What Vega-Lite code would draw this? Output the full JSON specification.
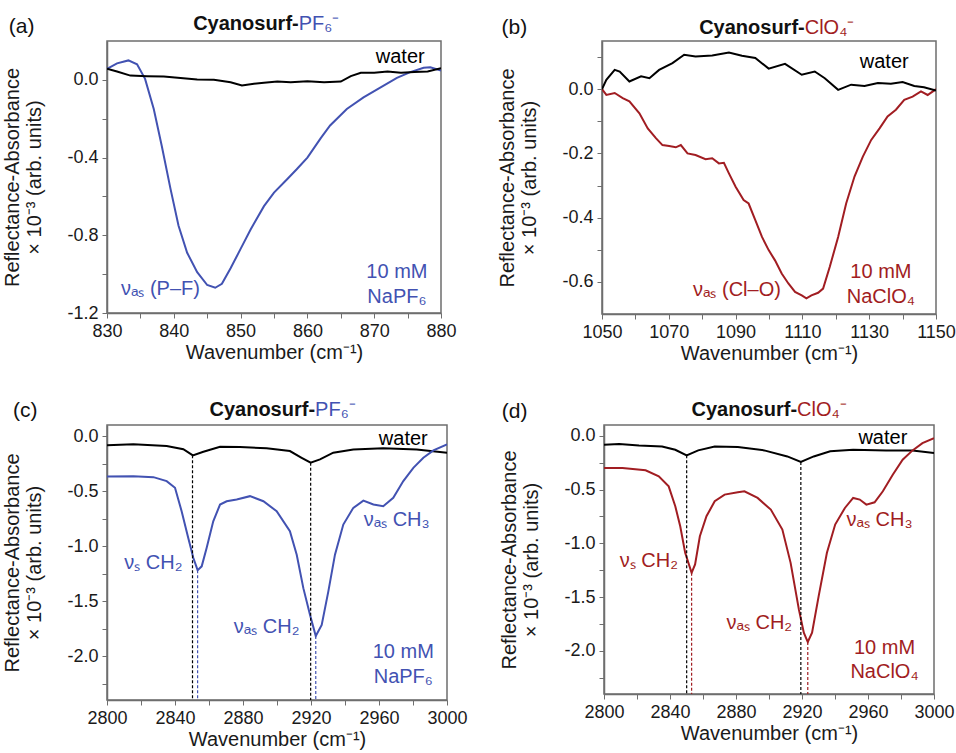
{
  "$schema": "https://vega.github.io/schema/vega-lite/v6.json",
  "padding": {"left": 2, "top": 12, "right": 0, "bottom": 5},
  "background": "white",
  "config": {
    "font": "Liberation Sans",
    "view": {"stroke": "#6e6e6e", "strokeWidth": 1.5},
    "axis": {"labelFont": "Liberation Sans", "labelFontSize": 18, "labelColor": "#1a1a1a", "titleFont": "Liberation Sans", "titleFontSize": 20, "titleFontWeight": "normal", "titleColor": "#1a1a1a", "tickColor": "#6e6e6e", "domainColor": "#6e6e6e", "domainWidth": 1.5, "tickSize": 5, "grid": false, "labelPadding": 4, "labelFlush": false, "labelOverlap": false},
    "axisY": {"titleLineHeight": 22, "titlePadding": 22},
    "axisX": {"titlePadding": 2},
    "text": {"font": "Liberation Sans"}
  },
  "datasets": {
    "a": [
      {"x": 830, "y": 0.057, "s": "blue"}, {"x": 831.5, "y": 0.085, "s": "blue"}, {"x": 833.2, "y": 0.1, "s": "blue"}, {"x": 834.5, "y": 0.08, "s": "blue"}, {"x": 835.7, "y": 0.005, "s": "blue"}, {"x": 837, "y": -0.15, "s": "blue"}, {"x": 838.2, "y": -0.34, "s": "blue"}, {"x": 839.5, "y": -0.56, "s": "blue"}, {"x": 840.7, "y": -0.75, "s": "blue"}, {"x": 842, "y": -0.89, "s": "blue"}, {"x": 843.5, "y": -0.99, "s": "blue"}, {"x": 845, "y": -1.056, "s": "blue"}, {"x": 846.2, "y": -1.07, "s": "blue"}, {"x": 847.2, "y": -1.05, "s": "blue"}, {"x": 848.5, "y": -0.97, "s": "blue"}, {"x": 850, "y": -0.87, "s": "blue"}, {"x": 851.5, "y": -0.77, "s": "blue"}, {"x": 853.5, "y": -0.65, "s": "blue"}, {"x": 855, "y": -0.58, "s": "blue"}, {"x": 857, "y": -0.51, "s": "blue"}, {"x": 858.4, "y": -0.46, "s": "blue"}, {"x": 860, "y": -0.4, "s": "blue"}, {"x": 862, "y": -0.3, "s": "blue"}, {"x": 863.4, "y": -0.235, "s": "blue"}, {"x": 865.9, "y": -0.15, "s": "blue"}, {"x": 868.4, "y": -0.09, "s": "blue"}, {"x": 870.9, "y": -0.04, "s": "blue"}, {"x": 873.4, "y": 0.01, "s": "blue"}, {"x": 875.4, "y": 0.04, "s": "blue"}, {"x": 877.4, "y": 0.062, "s": "blue"}, {"x": 878.4, "y": 0.065, "s": "blue"}, {"x": 880, "y": 0.048, "s": "blue"},
      {"x": 830, "y": 0.057, "s": "water"}, {"x": 831.5, "y": 0.043, "s": "water"}, {"x": 833.5, "y": 0.022, "s": "water"}, {"x": 836, "y": 0.019, "s": "water"}, {"x": 838.5, "y": 0.017, "s": "water"}, {"x": 841, "y": 0.009, "s": "water"}, {"x": 843.5, "y": 0.002, "s": "water"}, {"x": 846, "y": 0.0, "s": "water"}, {"x": 848.5, "y": -0.012, "s": "water"}, {"x": 850.2, "y": -0.029, "s": "water"}, {"x": 852, "y": -0.02, "s": "water"}, {"x": 853.5, "y": -0.015, "s": "water"}, {"x": 855.5, "y": -0.009, "s": "water"}, {"x": 857.5, "y": -0.012, "s": "water"}, {"x": 860, "y": -0.007, "s": "water"}, {"x": 862.5, "y": -0.012, "s": "water"}, {"x": 865, "y": -0.009, "s": "water"}, {"x": 866.5, "y": 0.019, "s": "water"}, {"x": 868, "y": 0.036, "s": "water"}, {"x": 870, "y": 0.036, "s": "water"}, {"x": 872, "y": 0.043, "s": "water"}, {"x": 874, "y": 0.036, "s": "water"}, {"x": 876, "y": 0.04, "s": "water"}, {"x": 878, "y": 0.043, "s": "water"}, {"x": 880, "y": 0.06, "s": "water"}
    ],
    "aText": [
      {"x": 873.9, "y": 0.117, "label": "water", "s": "water"},
      {"x": 838, "y": -1.076, "label": "νₐₛ (P–F)", "s": "blue"},
      {"x": 873.4, "y": -0.99, "label": "10 mM", "s": "blue"},
      {"x": 873.4, "y": -1.12, "label": "NaPF₆", "s": "blue"}
    ],
    "aTitle": [{"x": 858.7, "y": 0.29, "head": "Cyanosurf-", "ion": "PF₆⁻", "s": "blue", "letter": "(a)", "lx": 815.3, "ly": 0.271}],
    "b": [
      {"x": 1050, "y": 0, "s": "red"}, {"x": 1051.3, "y": -0.018, "s": "red"}, {"x": 1053.8, "y": -0.012, "s": "red"}, {"x": 1056.2, "y": -0.028, "s": "red"}, {"x": 1058.2, "y": -0.038, "s": "red"}, {"x": 1061.2, "y": -0.075, "s": "red"}, {"x": 1063.7, "y": -0.122, "s": "red"}, {"x": 1066.2, "y": -0.153, "s": "red"}, {"x": 1068.1, "y": -0.174, "s": "red"}, {"x": 1070.1, "y": -0.177, "s": "red"}, {"x": 1072.1, "y": -0.181, "s": "red"}, {"x": 1073.6, "y": -0.174, "s": "red"}, {"x": 1075.6, "y": -0.2, "s": "red"}, {"x": 1078, "y": -0.205, "s": "red"}, {"x": 1081, "y": -0.218, "s": "red"}, {"x": 1083, "y": -0.215, "s": "red"}, {"x": 1085, "y": -0.231, "s": "red"}, {"x": 1086.5, "y": -0.229, "s": "red"}, {"x": 1088, "y": -0.262, "s": "red"}, {"x": 1090, "y": -0.304, "s": "red"}, {"x": 1092.4, "y": -0.345, "s": "red"}, {"x": 1093.9, "y": -0.356, "s": "red"}, {"x": 1095.9, "y": -0.408, "s": "red"}, {"x": 1097.9, "y": -0.46, "s": "red"}, {"x": 1099.9, "y": -0.501, "s": "red"}, {"x": 1101.8, "y": -0.533, "s": "red"}, {"x": 1103.8, "y": -0.574, "s": "red"}, {"x": 1105.8, "y": -0.605, "s": "red"}, {"x": 1107.8, "y": -0.631, "s": "red"}, {"x": 1109.8, "y": -0.642, "s": "red"}, {"x": 1111.2, "y": -0.651, "s": "red"}, {"x": 1112.7, "y": -0.642, "s": "red"}, {"x": 1114.7, "y": -0.634, "s": "red"}, {"x": 1116.2, "y": -0.621, "s": "red"}, {"x": 1118.2, "y": -0.553, "s": "red"}, {"x": 1120.7, "y": -0.46, "s": "red"}, {"x": 1123.1, "y": -0.356, "s": "red"}, {"x": 1125.6, "y": -0.272, "s": "red"}, {"x": 1128.1, "y": -0.21, "s": "red"}, {"x": 1130.6, "y": -0.158, "s": "red"}, {"x": 1133.1, "y": -0.122, "s": "red"}, {"x": 1135.5, "y": -0.085, "s": "red"}, {"x": 1138, "y": -0.064, "s": "red"}, {"x": 1140.5, "y": -0.033, "s": "red"}, {"x": 1143, "y": -0.023, "s": "red"}, {"x": 1145.5, "y": -0.007, "s": "red"}, {"x": 1147.5, "y": -0.018, "s": "red"}, {"x": 1150, "y": 0, "s": "red"},
      {"x": 1050, "y": 0, "s": "water"}, {"x": 1051.3, "y": 0.029, "s": "water"}, {"x": 1053.8, "y": 0.06, "s": "water"}, {"x": 1055.3, "y": 0.055, "s": "water"}, {"x": 1058.2, "y": 0.024, "s": "water"}, {"x": 1061.7, "y": 0.04, "s": "water"}, {"x": 1064.2, "y": 0.034, "s": "water"}, {"x": 1067.1, "y": 0.06, "s": "water"}, {"x": 1071.1, "y": 0.081, "s": "water"}, {"x": 1074.6, "y": 0.107, "s": "water"}, {"x": 1078, "y": 0.102, "s": "water"}, {"x": 1083, "y": 0.105, "s": "water"}, {"x": 1088, "y": 0.114, "s": "water"}, {"x": 1091.9, "y": 0.104, "s": "water"}, {"x": 1095.9, "y": 0.097, "s": "water"}, {"x": 1099.9, "y": 0.064, "s": "water"}, {"x": 1104.8, "y": 0.079, "s": "water"}, {"x": 1109.8, "y": 0.045, "s": "water"}, {"x": 1113.7, "y": 0.055, "s": "water"}, {"x": 1116.7, "y": 0.034, "s": "water"}, {"x": 1120.7, "y": -0.002, "s": "water"}, {"x": 1124.6, "y": 0.014, "s": "water"}, {"x": 1128.6, "y": 0.01, "s": "water"}, {"x": 1132.6, "y": 0.019, "s": "water"}, {"x": 1136.5, "y": 0.017, "s": "water"}, {"x": 1140, "y": 0.022, "s": "water"}, {"x": 1143.5, "y": 0.01, "s": "water"}, {"x": 1146.4, "y": 0.006, "s": "water"}, {"x": 1150, "y": -0.004, "s": "water"}
    ],
    "bText": [
      {"x": 1134.5, "y": 0.086, "label": "water", "s": "water"},
      {"x": 1090.4, "y": -0.626, "label": "νₐₛ (Cl–O)", "s": "red"},
      {"x": 1133.5, "y": -0.569, "label": "10 mM", "s": "red"},
      {"x": 1133.5, "y": -0.647, "label": "NaClO₄", "s": "red"}
    ],
    "bTitle": [{"x": 1110.7, "y": 0.19, "head": "Cyanosurf-", "ion": "ClO₄⁻", "s": "red", "letter": "(b)", "lx": 1019.9, "ly": 0.19}],
    "c": [
      {"x": 2800, "y": -0.085, "s": "water"}, {"x": 2815.5, "y": -0.076, "s": "water"}, {"x": 2835.1, "y": -0.09, "s": "water"}, {"x": 2844.9, "y": -0.12, "s": "water"}, {"x": 2850.5, "y": -0.176, "s": "water"}, {"x": 2856.7, "y": -0.143, "s": "water"}, {"x": 2866.5, "y": -0.097, "s": "water"}, {"x": 2878.2, "y": -0.1, "s": "water"}, {"x": 2893.9, "y": -0.112, "s": "water"}, {"x": 2907.6, "y": -0.137, "s": "water"}, {"x": 2914.5, "y": -0.198, "s": "water"}, {"x": 2919.8, "y": -0.243, "s": "water"}, {"x": 2925.3, "y": -0.213, "s": "water"}, {"x": 2933.1, "y": -0.152, "s": "water"}, {"x": 2944.9, "y": -0.122, "s": "water"}, {"x": 2962.5, "y": -0.112, "s": "water"}, {"x": 2982.2, "y": -0.122, "s": "water"}, {"x": 3000, "y": -0.152, "s": "water"},
      {"x": 2800, "y": -0.368, "s": "blue"}, {"x": 2815.5, "y": -0.365, "s": "blue"}, {"x": 2827.3, "y": -0.374, "s": "blue"}, {"x": 2835.1, "y": -0.41, "s": "blue"}, {"x": 2840, "y": -0.471, "s": "blue"}, {"x": 2843.9, "y": -0.684, "s": "blue"}, {"x": 2847.8, "y": -0.927, "s": "blue"}, {"x": 2850.8, "y": -1.109, "s": "blue"}, {"x": 2853.3, "y": -1.22, "s": "blue"}, {"x": 2855.7, "y": -1.185, "s": "blue"}, {"x": 2858.6, "y": -1.018, "s": "blue"}, {"x": 2862.5, "y": -0.775, "s": "blue"}, {"x": 2866.5, "y": -0.623, "s": "blue"}, {"x": 2870.4, "y": -0.593, "s": "blue"}, {"x": 2876.3, "y": -0.578, "s": "blue"}, {"x": 2884.1, "y": -0.547, "s": "blue"}, {"x": 2892, "y": -0.593, "s": "blue"}, {"x": 2899.8, "y": -0.684, "s": "blue"}, {"x": 2907.6, "y": -0.866, "s": "blue"}, {"x": 2911.6, "y": -1.079, "s": "blue"}, {"x": 2915.5, "y": -1.383, "s": "blue"}, {"x": 2919.4, "y": -1.626, "s": "blue"}, {"x": 2922.8, "y": -1.818, "s": "blue"}, {"x": 2926.3, "y": -1.717, "s": "blue"}, {"x": 2930.2, "y": -1.413, "s": "blue"}, {"x": 2934.1, "y": -1.079, "s": "blue"}, {"x": 2939, "y": -0.805, "s": "blue"}, {"x": 2944.9, "y": -0.653, "s": "blue"}, {"x": 2950.8, "y": -0.587, "s": "blue"}, {"x": 2956.7, "y": -0.623, "s": "blue"}, {"x": 2962.5, "y": -0.638, "s": "blue"}, {"x": 2968.4, "y": -0.562, "s": "blue"}, {"x": 2974.3, "y": -0.41, "s": "blue"}, {"x": 2980.2, "y": -0.289, "s": "blue"}, {"x": 2986.1, "y": -0.198, "s": "blue"}, {"x": 2992, "y": -0.131, "s": "blue"}, {"x": 3000, "y": -0.076, "s": "blue"}
    ],
    "cRule": [
      {"x": 2850.3, "y": -0.176, "y2": -2.4, "s": "water"},
      {"x": 2853.3, "y": -1.22, "y2": -2.4, "s": "blue"},
      {"x": 2919.8, "y": -0.243, "y2": -2.4, "s": "water"},
      {"x": 2922.8, "y": -1.818, "y2": -2.4, "s": "blue"}
    ],
    "cText": [
      {"x": 2974.3, "y": -0.024, "label": "water", "s": "water"},
      {"x": 2827.3, "y": -1.155, "label": "νₛ CH₂", "s": "blue"},
      {"x": 2893.9, "y": -1.733, "label": "νₐₛ CH₂", "s": "blue"},
      {"x": 2970.4, "y": -0.76, "label": "νₐₛ CH₃", "s": "blue"},
      {"x": 2974.3, "y": -1.96, "label": "10 mM", "s": "blue"},
      {"x": 2974.3, "y": -2.19, "label": "NaPF₆", "s": "blue"}
    ],
    "cTitle": [{"x": 2922.4, "y": 0.24, "head": "Cyanosurf-", "ion": "PF₆⁻", "s": "blue", "letter": "(c)", "lx": 2744.7, "ly": 0.23}],
    "d": [
      {"x": 2800, "y": -0.083, "s": "water"}, {"x": 2809.2, "y": -0.077, "s": "water"}, {"x": 2821.2, "y": -0.09, "s": "water"}, {"x": 2835.2, "y": -0.099, "s": "water"}, {"x": 2843.2, "y": -0.13, "s": "water"}, {"x": 2850.1, "y": -0.182, "s": "water"}, {"x": 2857.1, "y": -0.136, "s": "water"}, {"x": 2867.1, "y": -0.099, "s": "water"}, {"x": 2881.1, "y": -0.105, "s": "water"}, {"x": 2897.1, "y": -0.136, "s": "water"}, {"x": 2911.1, "y": -0.192, "s": "water"}, {"x": 2919.3, "y": -0.244, "s": "water"}, {"x": 2927.1, "y": -0.192, "s": "water"}, {"x": 2937.1, "y": -0.145, "s": "water"}, {"x": 2951, "y": -0.13, "s": "water"}, {"x": 2971, "y": -0.136, "s": "water"}, {"x": 2987, "y": -0.136, "s": "water"}, {"x": 3000, "y": -0.161, "s": "water"},
      {"x": 2800, "y": -0.3, "s": "red"}, {"x": 2811.2, "y": -0.3, "s": "red"}, {"x": 2825.2, "y": -0.321, "s": "red"}, {"x": 2833.2, "y": -0.377, "s": "red"}, {"x": 2839.2, "y": -0.47, "s": "red"}, {"x": 2843.2, "y": -0.655, "s": "red"}, {"x": 2846.2, "y": -0.841, "s": "red"}, {"x": 2849.2, "y": -1.088, "s": "red"}, {"x": 2853.1, "y": -1.274, "s": "red"}, {"x": 2855.2, "y": -1.196, "s": "red"}, {"x": 2858.1, "y": -0.934, "s": "red"}, {"x": 2862.1, "y": -0.748, "s": "red"}, {"x": 2867.1, "y": -0.609, "s": "red"}, {"x": 2873.1, "y": -0.547, "s": "red"}, {"x": 2881.1, "y": -0.526, "s": "red"}, {"x": 2885.1, "y": -0.516, "s": "red"}, {"x": 2893.1, "y": -0.578, "s": "red"}, {"x": 2901.1, "y": -0.686, "s": "red"}, {"x": 2908.1, "y": -0.872, "s": "red"}, {"x": 2913.1, "y": -1.181, "s": "red"}, {"x": 2918.1, "y": -1.614, "s": "red"}, {"x": 2921.1, "y": -1.83, "s": "red"}, {"x": 2923.5, "y": -1.917, "s": "red"}, {"x": 2926.1, "y": -1.83, "s": "red"}, {"x": 2930.1, "y": -1.49, "s": "red"}, {"x": 2935.1, "y": -1.088, "s": "red"}, {"x": 2940.1, "y": -0.825, "s": "red"}, {"x": 2946, "y": -0.671, "s": "red"}, {"x": 2951, "y": -0.578, "s": "red"}, {"x": 2955, "y": -0.593, "s": "red"}, {"x": 2959, "y": -0.64, "s": "red"}, {"x": 2964, "y": -0.618, "s": "red"}, {"x": 2969, "y": -0.516, "s": "red"}, {"x": 2975, "y": -0.362, "s": "red"}, {"x": 2981, "y": -0.223, "s": "red"}, {"x": 2987, "y": -0.136, "s": "red"}, {"x": 2993, "y": -0.068, "s": "red"}, {"x": 3000, "y": -0.022, "s": "red"}
    ],
    "dRule": [
      {"x": 2850.1, "y": -0.182, "y2": -2.4, "s": "water"},
      {"x": 2853.1, "y": -1.274, "y2": -2.4, "s": "red"},
      {"x": 2919.3, "y": -0.244, "y2": -2.4, "s": "water"},
      {"x": 2923.5, "y": -1.917, "y2": -2.4, "s": "red"}
    ],
    "dText": [
      {"x": 2969, "y": -0.022, "label": "water", "s": "water"},
      {"x": 2827.2, "y": -1.165, "label": "νₛ CH₂", "s": "red"},
      {"x": 2894.1, "y": -1.737, "label": "νₐₛ CH₂", "s": "red"},
      {"x": 2967, "y": -0.779, "label": "νₐₛ CH₃", "s": "red"},
      {"x": 2970, "y": -1.969, "label": "10 mM", "s": "red"},
      {"x": 2970, "y": -2.2, "label": "NaClO₄", "s": "red"}
    ],
    "dTitle": [{"x": 2917, "y": 0.24, "head": "Cyanosurf-", "ion": "ClO₄⁻", "s": "red", "letter": "(d)", "lx": 2738.1, "ly": 0.225}]
  },
  "vconcat": [
    {
      "hconcat": [
        {
          "width": 334, "height": 272,
          "layer": [
            {"data": {"name": "a"}, "mark": {"type": "line", "strokeWidth": 2, "clip": true},
             "encoding": {
               "x": {"field": "x", "type": "quantitative", "scale": {"domain": [830, 880], "nice": false, "zero": false},
                     "axis": {"title": "Wavenumber (cm⁻¹)", "tickCount": 50, "values": [830, 835, 840, 845, 850, 855, 860, 865, 870, 875, 880], "labelExpr": "datum.value % 10 == 0 ? datum.value : ''"}},
               "y": {"field": "y", "type": "quantitative", "scale": {"domain": [-1.2, 0.2], "nice": false, "zero": false},
                     "axis": {"title": ["Reflectance-Absorbance", "× 10⁻³ (arb. units)"], "tickCount": 50, "values": [-1.2, -1.0, -0.8, -0.6, -0.4, -0.2, 0.0], "labelOverlap": false, "labelExpr": "round(datum.value*10) % 4 == 0 ? replace(format(datum.value, '.1f'), '−', '-') : ''"}},
               "color": {"field": "s", "type": "nominal", "scale": {"domain": ["water", "blue", "red"], "range": ["#000000", "#4252b2", "#a11d22"]}, "legend": null},
               "detail": {"field": "s"}
             }},
            {"data": {"name": "aText"}, "mark": {"type": "text", "fontSize": 20, "align": "center", "baseline": "middle"},
             "encoding": {"x": {"field": "x", "type": "quantitative"}, "y": {"field": "y", "type": "quantitative"}, "text": {"field": "label"}, "color": {"field": "s", "type": "nominal", "scale": {"domain": ["water", "blue", "red"], "range": ["#000000", "#4252b2", "#a11d22"]}, "legend": null}}},
            {"data": {"name": "aTitle"}, "mark": {"type": "text", "fontSize": 20, "fontWeight": "bold", "align": "right", "baseline": "middle", "color": "#111"},
             "encoding": {"x": {"field": "x", "type": "quantitative"}, "y": {"field": "y", "type": "quantitative"}, "text": {"field": "head"}}},
            {"data": {"name": "aTitle"}, "mark": {"type": "text", "fontSize": 20, "align": "left", "baseline": "middle"},
             "encoding": {"x": {"field": "x", "type": "quantitative"}, "y": {"field": "y", "type": "quantitative"}, "text": {"field": "ion"}, "color": {"field": "s", "type": "nominal", "scale": {"domain": ["water", "blue", "red"], "range": ["#000000", "#4252b2", "#a11d22"]}, "legend": null}}},
            {"data": {"name": "aTitle"}, "mark": {"type": "text", "fontSize": 21, "align": "left", "baseline": "middle", "color": "#111"},
             "encoding": {"x": {"field": "lx", "type": "quantitative"}, "y": {"field": "ly", "type": "quantitative"}, "text": {"field": "letter"}}}
          ]
        },
        {
          "width": 334, "height": 273,
          "layer": [
            {"data": {"name": "b"}, "mark": {"type": "line", "strokeWidth": 2, "clip": true},
             "encoding": {
               "x": {"field": "x", "type": "quantitative", "scale": {"domain": [1050, 1150], "nice": false, "zero": false},
                     "axis": {"title": "Wavenumber (cm⁻¹)", "tickCount": 50, "values": [1050, 1060, 1070, 1080, 1090, 1100, 1110, 1120, 1130, 1140, 1150], "labelExpr": "(datum.value - 1050) % 20 == 0 ? datum.value : ''"}},
               "y": {"field": "y", "type": "quantitative", "scale": {"domain": [-0.7, 0.15], "nice": false, "zero": false},
                     "axis": {"title": ["Reflectance-Absorbance", "× 10⁻³ (arb. units)"], "tickCount": 50, "values": [-0.6, -0.5, -0.4, -0.3, -0.2, -0.1, 0.0, 0.1], "labelOverlap": false, "labelExpr": "round(datum.value*10) % 2 == 0 && datum.value <= 0 ? replace(format(datum.value, '.1f'), '−', '-') : ''"}},
               "color": {"field": "s", "type": "nominal", "scale": {"domain": ["water", "blue", "red"], "range": ["#000000", "#4252b2", "#a11d22"]}, "legend": null},
               "detail": {"field": "s"}
             }},
            {"data": {"name": "bText"}, "mark": {"type": "text", "fontSize": 20, "align": "center", "baseline": "middle"},
             "encoding": {"x": {"field": "x", "type": "quantitative"}, "y": {"field": "y", "type": "quantitative"}, "text": {"field": "label"}, "color": {"field": "s", "type": "nominal", "scale": {"domain": ["water", "blue", "red"], "range": ["#000000", "#4252b2", "#a11d22"]}, "legend": null}}},
            {"data": {"name": "bTitle"}, "mark": {"type": "text", "fontSize": 20, "fontWeight": "bold", "align": "right", "baseline": "middle", "color": "#111"},
             "encoding": {"x": {"field": "x", "type": "quantitative"}, "y": {"field": "y", "type": "quantitative"}, "text": {"field": "head"}}},
            {"data": {"name": "bTitle"}, "mark": {"type": "text", "fontSize": 20, "align": "left", "baseline": "middle"},
             "encoding": {"x": {"field": "x", "type": "quantitative"}, "y": {"field": "y", "type": "quantitative"}, "text": {"field": "ion"}, "color": {"field": "s", "type": "nominal", "scale": {"domain": ["water", "blue", "red"], "range": ["#000000", "#4252b2", "#a11d22"]}, "legend": null}}},
            {"data": {"name": "bTitle"}, "mark": {"type": "text", "fontSize": 21, "align": "left", "baseline": "middle", "color": "#111"},
             "encoding": {"x": {"field": "lx", "type": "quantitative"}, "y": {"field": "ly", "type": "quantitative"}, "text": {"field": "letter"}}}
          ]
        }
      ],
      "spacing": 40
    },
    {
      "hconcat": [
        {
          "width": 340, "height": 275,
          "layer": [
            {"data": {"name": "c"}, "mark": {"type": "line", "strokeWidth": 2, "clip": true},
             "encoding": {
               "x": {"field": "x", "type": "quantitative", "scale": {"domain": [2800, 3000], "nice": false, "zero": false},
                     "axis": {"title": "Wavenumber (cm⁻¹)", "tickCount": 50, "values": [2800, 2820, 2840, 2860, 2880, 2900, 2920, 2940, 2960, 2980, 3000], "labelExpr": "(datum.value - 2800) % 40 == 0 ? datum.value : ''"}},
               "y": {"field": "y", "type": "quantitative", "scale": {"domain": [-2.4, 0.1], "nice": false, "zero": false},
                     "axis": {"title": ["Reflectance-Absorbance", "× 10⁻³ (arb. units)"], "tickCount": 50, "values": [-2.25, -2.0, -1.75, -1.5, -1.25, -1.0, -0.75, -0.5, -0.25, 0.0], "labelOverlap": false, "labelExpr": "abs(datum.value*2 - round(datum.value*2)) < 0.01 ? replace(format(datum.value, '.1f'), '−', '-') : ''"}},
               "color": {"field": "s", "type": "nominal", "scale": {"domain": ["water", "blue", "red"], "range": ["#000000", "#4252b2", "#a11d22"]}, "legend": null},
               "detail": {"field": "s"}
             }},
            {"data": {"name": "cRule"}, "mark": {"type": "rule", "strokeDash": [3, 2], "strokeWidth": 1.2},
             "encoding": {"x": {"field": "x", "type": "quantitative"}, "y": {"field": "y", "type": "quantitative"}, "y2": {"field": "y2"}, "color": {"field": "s", "type": "nominal", "scale": {"domain": ["water", "blue", "red"], "range": ["#000000", "#4252b2", "#a11d22"]}, "legend": null}}},
            {"data": {"name": "cText"}, "mark": {"type": "text", "fontSize": 20, "align": "center", "baseline": "middle"},
             "encoding": {"x": {"field": "x", "type": "quantitative"}, "y": {"field": "y", "type": "quantitative"}, "text": {"field": "label"}, "color": {"field": "s", "type": "nominal", "scale": {"domain": ["water", "blue", "red"], "range": ["#000000", "#4252b2", "#a11d22"]}, "legend": null}}},
            {"data": {"name": "cTitle"}, "mark": {"type": "text", "fontSize": 20, "fontWeight": "bold", "align": "right", "baseline": "middle", "color": "#111"},
             "encoding": {"x": {"field": "x", "type": "quantitative"}, "y": {"field": "y", "type": "quantitative"}, "text": {"field": "head"}}},
            {"data": {"name": "cTitle"}, "mark": {"type": "text", "fontSize": 20, "align": "left", "baseline": "middle"},
             "encoding": {"x": {"field": "x", "type": "quantitative"}, "y": {"field": "y", "type": "quantitative"}, "text": {"field": "ion"}, "color": {"field": "s", "type": "nominal", "scale": {"domain": ["water", "blue", "red"], "range": ["#000000", "#4252b2", "#a11d22"]}, "legend": null}}},
            {"data": {"name": "cTitle"}, "mark": {"type": "text", "fontSize": 21, "align": "left", "baseline": "middle", "color": "#111"},
             "encoding": {"x": {"field": "lx", "type": "quantitative"}, "y": {"field": "ly", "type": "quantitative"}, "text": {"field": "letter"}}}
          ]
        },
        {
          "width": 330, "height": 269,
          "layer": [
            {"data": {"name": "d"}, "mark": {"type": "line", "strokeWidth": 2, "clip": true},
             "encoding": {
               "x": {"field": "x", "type": "quantitative", "scale": {"domain": [2800, 3000], "nice": false, "zero": false},
                     "axis": {"title": "Wavenumber (cm⁻¹)", "tickCount": 50, "values": [2800, 2820, 2840, 2860, 2880, 2900, 2920, 2940, 2960, 2980, 3000], "labelExpr": "(datum.value - 2800) % 40 == 0 ? datum.value : ''"}},
               "y": {"field": "y", "type": "quantitative", "scale": {"domain": [-2.4, 0.1], "nice": false, "zero": false},
                     "axis": {"title": ["Reflectance-Absorbance", "× 10⁻³ (arb. units)"], "tickCount": 50, "values": [-2.25, -2.0, -1.75, -1.5, -1.25, -1.0, -0.75, -0.5, -0.25, 0.0], "labelOverlap": false, "labelExpr": "abs(datum.value*2 - round(datum.value*2)) < 0.01 ? replace(format(datum.value, '.1f'), '−', '-') : ''"}},
               "color": {"field": "s", "type": "nominal", "scale": {"domain": ["water", "blue", "red"], "range": ["#000000", "#4252b2", "#a11d22"]}, "legend": null},
               "detail": {"field": "s"}
             }},
            {"data": {"name": "dRule"}, "mark": {"type": "rule", "strokeDash": [3, 2], "strokeWidth": 1.2},
             "encoding": {"x": {"field": "x", "type": "quantitative"}, "y": {"field": "y", "type": "quantitative"}, "y2": {"field": "y2"}, "color": {"field": "s", "type": "nominal", "scale": {"domain": ["water", "blue", "red"], "range": ["#000000", "#4252b2", "#a11d22"]}, "legend": null}}},
            {"data": {"name": "dText"}, "mark": {"type": "text", "fontSize": 20, "align": "center", "baseline": "middle"},
             "encoding": {"x": {"field": "x", "type": "quantitative"}, "y": {"field": "y", "type": "quantitative"}, "text": {"field": "label"}, "color": {"field": "s", "type": "nominal", "scale": {"domain": ["water", "blue", "red"], "range": ["#000000", "#4252b2", "#a11d22"]}, "legend": null}}},
            {"data": {"name": "dTitle"}, "mark": {"type": "text", "fontSize": 20, "fontWeight": "bold", "align": "right", "baseline": "middle", "color": "#111"},
             "encoding": {"x": {"field": "x", "type": "quantitative"}, "y": {"field": "y", "type": "quantitative"}, "text": {"field": "head"}}},
            {"data": {"name": "dTitle"}, "mark": {"type": "text", "fontSize": 20, "align": "left", "baseline": "middle"},
             "encoding": {"x": {"field": "x", "type": "quantitative"}, "y": {"field": "y", "type": "quantitative"}, "text": {"field": "ion"}, "color": {"field": "s", "type": "nominal", "scale": {"domain": ["water", "blue", "red"], "range": ["#000000", "#4252b2", "#a11d22"]}, "legend": null}}},
            {"data": {"name": "dTitle"}, "mark": {"type": "text", "fontSize": 21, "align": "left", "baseline": "middle", "color": "#111"},
             "encoding": {"x": {"field": "lx", "type": "quantitative"}, "y": {"field": "ly", "type": "quantitative"}, "text": {"field": "letter"}}}
          ]
        }
      ],
      "spacing": 31
    }
  ],
  "spacing": 34
}
